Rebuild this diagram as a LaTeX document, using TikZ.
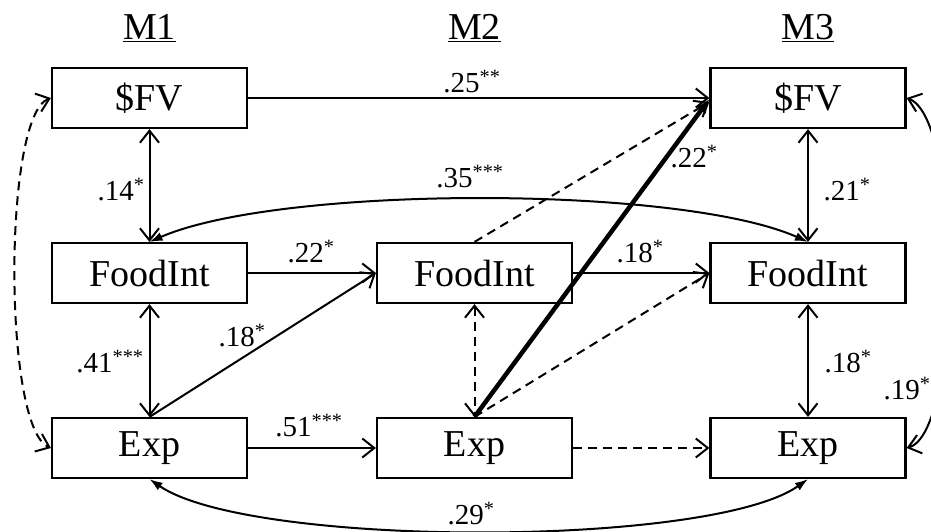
\documentclass[tikz,border=0pt]{standalone}
\usepackage{fontspec}
\setmainfont{Liberation Serif}
\usetikzlibrary{arrows.meta}
\begin{document}
\begin{tikzpicture}[x=1pt,y=-1pt,
  >={Straight Barb[length=12pt,width=19pt]},
  box/.style={draw,line width=2.2pt,minimum width=195pt,minimum height=60pt,inner sep=0pt,font=\fontsize{38}{40}\selectfont},
  hdr/.style={font=\fontsize{38}{40}\selectfont,anchor=base,inner sep=0pt},
  lbl/.style={font=\fontsize{29}{30}\selectfont,inner sep=0pt},
  conn/.style={line width=2pt},
  dsh/.style={conn,dash pattern=on 9pt off 6pt},
  fill2/.style={conn,{Latex[length=13pt,width=9pt]}-{Latex[length=13pt,width=9pt]}}
]
\useasboundingbox (0,0) rectangle (931,531);

% headers
\node[hdr] (h1) at (149.5,39.5) {\underline{M1}};
\node[hdr] (h2) at (474.5,39.5) {\underline{M2}};
\node[hdr] (h3) at (808,39.5) {\underline{M3}};

% boxes
\node[box] (s1) at (149.5,98) {\$FV};
\node[box] (f1) at (149.5,273) {FoodInt};
\node[box] (e1) at (149.5,448) {Exp};
\node[box] (f2) at (474.5,273) {FoodInt};
\node[box] (e2) at (474.5,448) {Exp};
\node[box] (s3) at (808,98) {\$FV};
\node[box] (f3) at (808,273) {FoodInt};
\node[box] (e3) at (808,448) {Exp};

% straight connectors
\draw[conn,->] (s1.east) -- (s3.west);
\draw[conn,<->] (s1.south) -- (f1.north);
\draw[conn,->] (f1.east) -- (f2.west);
\draw[conn,<->] (f1.south) -- (e1.north);
\draw[conn,->] (e1.north) -- (f2.west);
\draw[conn,->] (e1.east) -- (e2.west);
\draw[dsh,<->] (f2.south) -- (e2.north);
\draw[dsh,->] (f2.north) -- ([yshift=-4pt]s3.west);
\draw[dsh,->] (e2.north) -- (f3.west);
\draw[dsh,->] (e2.east) -- (e3.west);
\draw[conn,->] (f2.east) -- (f3.west);
\draw[line width=4.5pt,-{Latex[length=14pt,width=12pt]}] (e2.north) -- ([yshift=-1pt]s3.west);
\draw[conn,<->] (s3.south) -- (f3.north);
\draw[conn,<->] (f3.south) -- (e3.north);

% curved connectors
\draw[fill2] (f1.north) .. controls (280,185) and (680,185) .. (f3.north);
\draw[fill2] (e1.south) .. controls (250,548) and (710,548) .. (e3.south);
\draw[dsh,<->] (s1.west) .. controls (3,115) and (3,428) .. (e1.west);
\draw[conn,<->] (s3.east) .. controls (962,118) and (962,432) .. (e3.east);

% labels
\node[lbl] (l25) at (472,82) {.25\textsuperscript{**}};
\node[lbl] (l14) at (121,190) {.14\textsuperscript{*}};
\node[lbl] (l35) at (470,177) {.35\textsuperscript{***}};
\node[lbl] (l22a) at (311,252) {.22\textsuperscript{*}};
\node[lbl] (l41) at (110,362) {.41\textsuperscript{***}};
\node[lbl] (l18a) at (242,336) {.18\textsuperscript{*}};
\node[lbl] (l51) at (309,426) {.51\textsuperscript{***}};
\node[lbl] (l29) at (471,514) {.29\textsuperscript{*}};
\node[lbl] (l22b) at (694,157) {.22\textsuperscript{*}};
\node[lbl] (l21) at (847,190) {.21\textsuperscript{*}};
\node[lbl] (l18b) at (640,252) {.18\textsuperscript{*}};
\node[lbl] (l18c) at (848,362) {.18\textsuperscript{*}};
\node[lbl] (l19) at (907,389) {.19\textsuperscript{*}};
\end{tikzpicture}
\end{document}
